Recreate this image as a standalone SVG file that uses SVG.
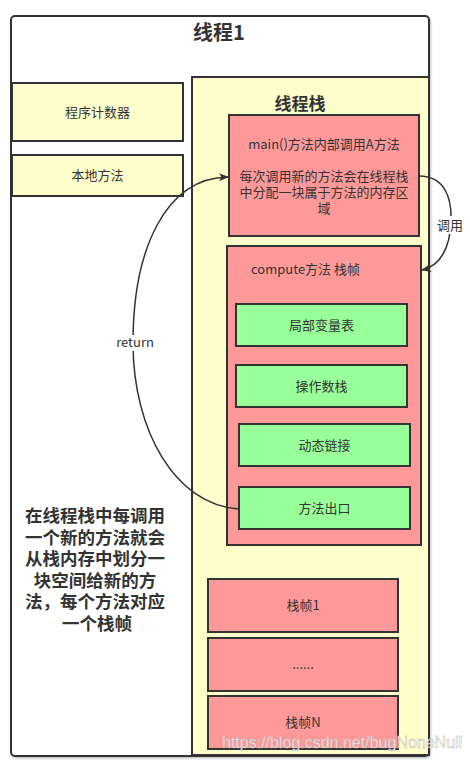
<svg xmlns="http://www.w3.org/2000/svg" width="470" height="762" viewBox="0 0 470 762">
<defs>
<style>
.box{stroke:#333;stroke-width:2}
.y{fill:#ffffcc}
.r{fill:#ff9999}
.g{fill:#99ff99}
.t{font-family:"Noto Sans CJK SC","Liberation Sans",sans-serif;font-size:13px;fill:#333;text-anchor:middle}
.b{font-family:"Noto Sans CJK SC","Liberation Sans",sans-serif;font-weight:bold;fill:#333;text-anchor:middle}
.edge{fill:none;stroke:#333;stroke-width:1.5}
</style>
<marker id="arr" markerWidth="10" markerHeight="10" refX="9" refY="5" orient="auto" markerUnits="userSpaceOnUse">
<path d="M0,1 L10,5 L0,9 L2.5,5 Z" fill="#333"/>
</marker>
<filter id="sh" x="-5%" y="-5%" width="110%" height="110%"><feDropShadow dx="1" dy="1.5" stdDeviation="1" flood-color="#000" flood-opacity="0.25"/></filter>
</defs>
<rect width="470" height="762" fill="#fff"/>
<g id="thread1">
<rect x="11" y="16" width="418" height="740" rx="4" fill="#fff" class="box" filter="url(#sh)"/>
<text x="219" y="40" class="b" font-size="20">线程1</text>
</g>
<g id="pc">
<rect x="12" y="83" width="171" height="58" class="box y"/>
<text x="97.5" y="117" class="t">程序计数器</text>
</g>
<g id="native">
<rect x="12" y="155" width="171" height="41" class="box y"/>
<text x="97.5" y="180" class="t">本地方法</text>
</g>
<g id="stack">
<rect x="192" y="77" width="237" height="678" class="box y"/>
<text x="300" y="110" class="b" font-size="17">线程栈</text>
</g>
<g id="main">
<rect x="229" y="115" width="190" height="121" class="box r"/>
<text x="324" y="149" class="t">main()方法内部调用A方法</text>
<text x="324" y="181" class="t">每次调用新的方法会在线程栈</text>
<text x="324" y="197" class="t">中分配一块属于方法的内存区</text>
<text x="324" y="213" class="t">域</text>
</g>
<g id="compute">
<rect x="227" y="246" width="194" height="299" class="box r"/>
<text x="251" y="274" class="t" style="text-anchor:start">compute方法 栈帧</text>
</g>
<g id="locals">
<rect x="236" y="304" width="171" height="42" class="box g"/>
<text x="321.5" y="330" class="t">局部变量表</text>
</g>
<g id="operand">
<rect x="236" y="365" width="171" height="42" class="box g"/>
<text x="321.5" y="391" class="t">操作数栈</text>
</g>
<g id="dynlink">
<rect x="239" y="424" width="171" height="42" class="box g"/>
<text x="324.5" y="450" class="t">动态链接</text>
</g>
<g id="exit">
<rect x="239" y="487" width="171" height="42" class="box g"/>
<text x="324.5" y="513" class="t">方法出口</text>
</g>
<g id="frame1">
<rect x="208" y="579" width="190" height="53" class="box r"/>
<text x="303" y="610" class="t">栈帧1</text>
</g>
<g id="frameDots">
<rect x="208" y="638" width="190" height="53" class="box r"/>
<text x="303" y="669" class="t">......</text>
</g>
<g id="frameN">
<rect x="208" y="696" width="190" height="53" class="box r"/>
<text x="303" y="727" class="t">栈帧N</text>
</g>
<g id="note">
<text class="b" font-size="17.5">
<tspan x="97" y="522">在线程栈中每调用</tspan>
<tspan x="97" y="543.5">一个新的方法就会</tspan>
<tspan x="97" y="565">从栈内存中划分一</tspan>
<tspan x="97" y="586.5">块空间给新的方</tspan>
<tspan x="97" y="608">法，每个方法对应</tspan>
<tspan x="97" y="629.5">一个栈帧</tspan>
</text>
</g>
<g id="connectors">
<path class="edge" d="M419,176 C446,176 452,200 451,222 C450,248 440,266 422,270" marker-end="url(#arr)"/>
<rect x="436" y="216" width="28" height="18" fill="#fff"/>
<text x="450" y="230" class="t">调用</text>
<path class="edge" d="M239,509 C175,505 133,430 133,343 C133,250 165,178 228,177" marker-end="url(#arr)"/>
<rect x="115" y="335" width="40" height="16" fill="#fff"/>
<text x="135" y="347" class="t" font-size="12">return</text>
</g>
<text x="222" y="748" font-family="Liberation Sans,sans-serif" font-size="16" fill="#fff" fill-opacity="0.85" stroke="#aaa" stroke-width="0.4">https://blog.csdn.net/bugNoneNull</text>
</svg>
